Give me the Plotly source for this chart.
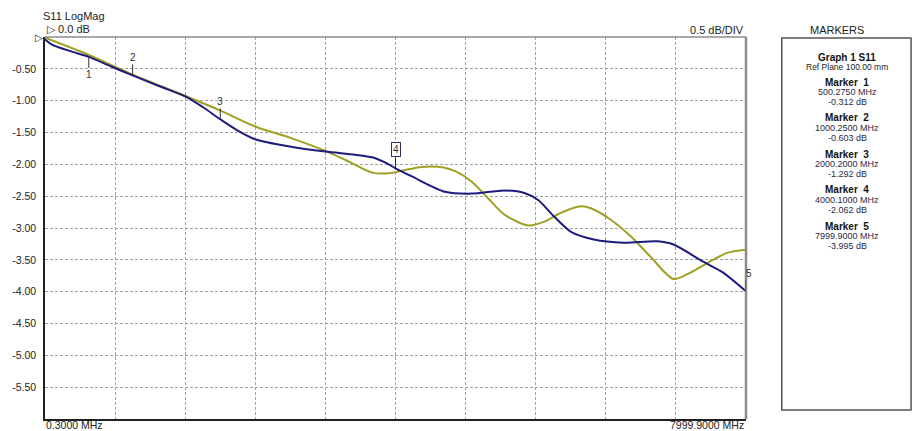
import plotly.graph_objects as go

# ---- S11 sweep data (frequency in MHz, magnitude in dB) ----
freq_meas = [0.3, 80, 307, 500.275, 750, 1000.25, 1300, 1611, 1800, 2000.2, 2200, 2406,
             2792, 3200, 3540, 3733, 3880, 4000.1, 4187, 4562, 4868, 5243, 5470, 5628,
             5810, 6003, 6264, 6604, 6990, 7172, 7512, 7739, 7999.9]
s11_meas = [-0.04, -0.12, -0.23, -0.312, -0.46, -0.603, -0.77, -0.94, -1.10, -1.292, -1.47, -1.61,
            -1.72, -1.80, -1.85, -1.89, -1.97, -2.062, -2.19, -2.43, -2.46, -2.41, -2.45, -2.56,
            -2.82, -3.06, -3.18, -3.23, -3.21, -3.26, -3.53, -3.70, -3.995]

freq_ref = [0.3, 500, 1000, 1611, 2009, 2406, 2792, 3166, 3473, 3733, 3926, 4074, 4300,
            4550, 4700, 4868, 5061, 5243, 5515, 5697, 5890, 6116, 6230, 6457, 6684, 6910,
            7172, 7365, 7558, 7785, 7999.9]
s11_ref = [-0.01, -0.28, -0.59, -0.93, -1.16, -1.41, -1.58, -1.77, -1.96, -2.13, -2.14, -2.10, -2.04,
           -2.05, -2.12, -2.27, -2.54, -2.79, -2.96, -2.90, -2.76, -2.66, -2.69, -2.87, -3.13, -3.45,
           -3.80, -3.70, -3.55, -3.39, -3.34]

marker_ids = [1, 2, 3, 4, 5]
marker_freq = [500.275, 1000.25, 2000.2, 4000.1, 7999.9]
marker_db = [-0.312, -0.603, -1.292, -2.062, -3.995]

y_tick_vals = [-0.5, -1.0, -1.5, -2.0, -2.5, -3.0, -3.5, -4.0, -4.5, -5.0, -5.5]
y_tick_text = ["-0.50", "-1.00", "-1.50", "-2.00", "-2.50", "-3.00",
               "-3.50", "-4.00", "-4.50", "-5.00", "-5.50"]
f_start, f_stop = 0.3, 7999.9
n_div = 10
y_top, y_bottom = 0.0, -6.0

# ---- page geometry (pixels) ----
W, H = 914, 431
PL, PR, PT, PB = 41, 746, 37, 419


def px(x):
    return (x - PL) / (PR - PL)


def py(y):
    return (PB - y) / (PB - PT)


FONT = "Liberation Sans, Arial, sans-serif"
NAVY = "#1c1c7e"
OLIVE = "#a0a024"

fig = go.Figure()
fig.add_trace(go.Scatter(x=freq_ref, y=s11_ref, mode="lines",
                         line=dict(color=OLIVE, width=2, shape="spline", smoothing=0.8),
                         showlegend=False, hoverinfo="skip"))
fig.add_trace(go.Scatter(x=freq_meas, y=s11_meas, mode="lines",
                         line=dict(color=NAVY, width=2, shape="spline", smoothing=0.8),
                         showlegend=False, hoverinfo="skip"))

x_grid = [f_start + k * (f_stop - f_start) / n_div for k in range(1, n_div)]

fig.update_xaxes(range=[f_start, f_stop], tickvals=x_grid, showticklabels=False,
                 showgrid=True, gridcolor="#a0a0a0", gridwidth=1, griddash="3px,2px",
                 showline=True, linecolor="#202020", linewidth=1.5, zeroline=False,
                 ticks="")
fig.update_yaxes(range=[y_bottom, y_top], tickvals=y_tick_vals, ticktext=y_tick_text,
                 showgrid=True, gridcolor="#a0a0a0", gridwidth=1, griddash="3px,2px",
                 showline=True, linecolor="#202020", linewidth=1.5, zeroline=False,
                 ticks="", ticklabelstandoff=5,
                 tickfont=dict(family=FONT, size=10.5, color="#222222"))

shapes = [
    # grey top and right frame edges
    dict(type="line", xref="paper", yref="paper", x0=0, x1=1, y0=1, y1=1,
         line=dict(color="#8c8c8c", width=1.5)),
    dict(type="line", xref="paper", yref="paper", x0=1, x1=1, y0=0, y1=1,
         line=dict(color="#8c8c8c", width=2.5)),
    # markers panel
    dict(type="rect", xref="paper", yref="paper", x0=px(782), x1=px(912), y0=py(410), y1=py(38),
         line=dict(color="#555555", width=1.5), fillcolor="white"),
]

annotations = []

# marker ticks and numbers on the measured trace
marker_dir = {1: -1, 2: 1, 3: 1, 4: 1, 5: 1}
for mid, f, v in zip(marker_ids, marker_freq, marker_db):
    d = marker_dir[mid]
    shapes.append(dict(type="line", xref="x", yref="y", ysizemode="pixel", yanchor=v,
                       x0=f, x1=f, y0=0, y1=d * 11,
                       line=dict(color="#303030", width=1)))
    ann = dict(x=f, y=v, xref="x", yref="y", text=str(mid), showarrow=False,
               yshift=d * 18, font=dict(family=FONT, size=10, color="#303030"))
    if mid == 4:
        ann.update(bordercolor="#303060", borderwidth=1, borderpad=1, bgcolor="white", yshift=19)
    if mid == 5:
        ann.update(xshift=3)
    annotations.append(ann)


def label(x, y, text, anchor="left", size=10.5, color="#222222", bold=False):
    if bold:
        text = "<b>" + text + "</b>"
    annotations.append(dict(x=px(x), y=py(y), xref="paper", yref="paper", text=text,
                            showarrow=False, xanchor=anchor, yanchor="middle",
                            font=dict(family=FONT, size=size, color=color)))


label(37, 16, "S11 LogMag", size=11)
label(41, 29, "\u25b7 0.0 dB", size=11)
label(41, 38, "\u25b7", anchor="right", size=10)
label(746, 30, "0.5 dB/DIV", anchor="right", size=11)
label(40, 425, "0.3000 MHz", size=10.5)
label(746, 425, "7999.9000 MHz", anchor="right", size=10.5)
label(808, 30, "MARKERS", size=11)

cx = 848
label(cx, 57, "Graph 1 S11", anchor="center", size=10, color="#111111", bold=True)
label(cx, 67, "Ref Plane 100.00 mm", anchor="center", size=8.5, color="#222222")
for k, (mid, f, v) in enumerate(zip(marker_ids, marker_freq, marker_db)):
    y0 = 82 + 36 * k
    label(cx, y0, "Marker  %d" % mid, anchor="center", size=10, color="#111111", bold=True)
    label(cx, y0 + 10, "%.4f MHz" % f, anchor="center", size=9, color="#2a2a48")
    label(cx, y0 + 20, "%.3f dB" % v, anchor="center", size=9, color="#2a2a48")

fig.update_layout(width=W, height=H, margin=dict(l=PL, r=W - PR, t=PT, b=H - PB),
                  paper_bgcolor="white", plot_bgcolor="white",
                  shapes=shapes, annotations=annotations)

fig.write_html("out.html")
